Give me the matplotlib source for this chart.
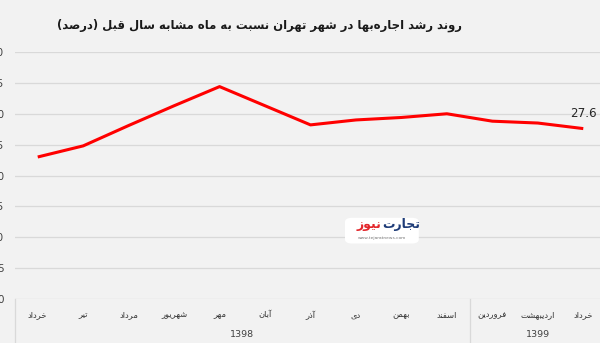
import numpy as np
import matplotlib
matplotlib.use("Agg")
import matplotlib.pyplot as plt
import matplotlib.transforms as mtransforms
from matplotlib.patches import FancyBboxPatch

# رشد اجاره‌بها نسبت به ماه مشابه سال قبل (درصد)
months = ['خرداد', 'تیر', 'مرداد', 'شهریور', 'مهر', 'آبان', 'آذر',
          'دی', 'بهمن', 'اسفند', 'فروردین', 'اردیبهشت', 'خرداد']
growth = [23.0, 24.8, 28.1, 31.3, 34.4, 31.3, 28.2,
          29.0, 29.4, 30.0, 28.8, 28.5, 27.6]
years = ['1398', '1399']
year_counts = [10, 3]
y_ticks = [0, 5, 10, 15, 20, 25, 30, 35, 40]

title_fa = 'روند رشد اجاره\u200cبها در شهر تهران نسبت به ماه مشابه سال قبل (درصد)'

# presentation forms: isolated, final, initial, medial
FORMS = {
    'ا': ('\uFE8D', '\uFE8E', None, None),
    'آ': ('\uFE81', '\uFE82', None, None),
    'ب': ('\uFE8F', '\uFE90', '\uFE91', '\uFE92'),
    'ت': ('\uFE95', '\uFE96', '\uFE97', '\uFE98'),
    'ج': ('\uFE9D', '\uFE9E', '\uFE9F', '\uFEA0'),
    'خ': ('\uFEA5', '\uFEA6', '\uFEA7', '\uFEA8'),
    'د': ('\uFEA9', '\uFEAA', None, None),
    'ذ': ('\uFEAB', '\uFEAC', None, None),
    'ر': ('\uFEAD', '\uFEAE', None, None),
    'ز': ('\uFEAF', '\uFEB0', None, None),
    'س': ('\uFEB1', '\uFEB2', '\uFEB3', '\uFEB4'),
    'ش': ('\uFEB5', '\uFEB6', '\uFEB7', '\uFEB8'),
    'ص': ('\uFEB9', '\uFEBA', '\uFEBB', '\uFEBC'),
    'ف': ('\uFED1', '\uFED2', '\uFED3', '\uFED4'),
    'ق': ('\uFED5', '\uFED6', '\uFED7', '\uFED8'),
    'ل': ('\uFEDD', '\uFEDE', '\uFEDF', '\uFEE0'),
    'م': ('\uFEE1', '\uFEE2', '\uFEE3', '\uFEE4'),
    'ن': ('\uFEE5', '\uFEE6', '\uFEE7', '\uFEE8'),
    'ه': ('\uFEE9', '\uFEEA', '\uFEEB', '\uFEEC'),
    'و': ('\uFEED', '\uFEEE', None, None),
    'ی': ('\uFBFC', '\uFBFD', '\uFBFE', '\uFBFF'),
}
MIRROR = {'(': ')', ')': '('}


def fa(text):
    """Join letters into contextual forms and lay them out right-to-left."""
    out = []
    for i, ch in enumerate(text):
        if ch == '\u200c':
            continue
        if ch not in FORMS:
            out.append(MIRROR.get(ch, ch))
            continue
        prev = text[i - 1] if i > 0 else ''
        nxt = text[i + 1] if i + 1 < len(text) else ''
        iso, fin, ini, med = FORMS[ch]
        join_prev = prev in FORMS and FORMS[prev][2] is not None
        join_next = ini is not None and nxt in FORMS
        if join_prev and join_next:
            out.append(med)
        elif join_prev:
            out.append(fin)
        elif join_next:
            out.append(ini)
        else:
            out.append(iso)
    return ''.join(reversed(out))


plt.rcParams['font.family'] = ['DejaVu Sans']
bg = '#f2f2f2'
grid_c = '#d9d9d9'

fig = plt.figure(figsize=(6, 3.43), dpi=100, facecolor=bg)
ax = fig.add_axes([0.025, 0.1283, 0.985, 0.72])
ax.set_facecolor(bg)

x = np.arange(len(months))
ax.plot(x, growth, color='#ff0000', linewidth=2.2, solid_capstyle='butt')

ax.set_xlim(-0.5, len(months) - 0.5)
ax.set_ylim(0, 40)
ax.set_yticks(y_ticks)
ax.set_yticklabels([str(v) for v in y_ticks], fontsize=7.5, color='#404040')
ax.tick_params(axis='y', length=0, pad=8)
ax.set_xticks([])
ax.yaxis.grid(True, color=grid_c, linewidth=0.9)
ax.set_axisbelow(True)
for s in ax.spines.values():
    s.set_visible(False)

# value label on the last point
ax.annotate(f'{growth[-1]:.1f}', (x[-1], growth[-1]), xytext=(0, 6),
            textcoords='offset points', ha='center', va='bottom',
            fontsize=8.6, color='#262626')

# two-level category axis: months, then years
trans = mtransforms.blended_transform_factory(ax.transData, ax.transAxes)
for xi, m in zip(x, months):
    ax.text(xi, -0.065, fa(m), transform=trans, ha='center', va='center',
            fontsize=6.0, color='#333333')

start = -0.5
bounds = [start]
for name, cnt in zip(years, year_counts):
    ax.text(start + cnt / 2, -0.142, name, transform=trans, ha='center',
            va='center', fontsize=6.8, color='#404040')
    start += cnt
    bounds.append(start)
for b in bounds[:-1]:
    ax.plot([b, b], [0, -0.2], transform=trans, color=grid_c,
            linewidth=0.9, clip_on=False)

fig.text(0.433, 0.927, fa(title_fa), ha='center', va='center',
         fontsize=8.4, fontweight='bold', color='#1a1a1a')

# site logo
logo = FancyBboxPatch((0.575, 0.29), 0.123, 0.075,
                      boxstyle='round,pad=0,rounding_size=0.012',
                      transform=fig.transFigure, facecolor='white',
                      edgecolor='none', zorder=5)
fig.patches.append(logo)
fig.text(0.636, 0.345, fa('نیوز'), ha='right', va='center', fontsize=9,
         fontweight='bold', color='#e3262b', zorder=6)
fig.text(0.637, 0.345, fa('تجارت'), ha='left', va='center', fontsize=9,
         fontweight='bold', color='#1e3c78', zorder=6)
fig.text(0.6365, 0.305, 'www.tejaratnews.com', ha='center', va='center',
         fontsize=3.2, color='#777777', zorder=6)

fig.savefig('out.png', dpi=100, facecolor=bg)
